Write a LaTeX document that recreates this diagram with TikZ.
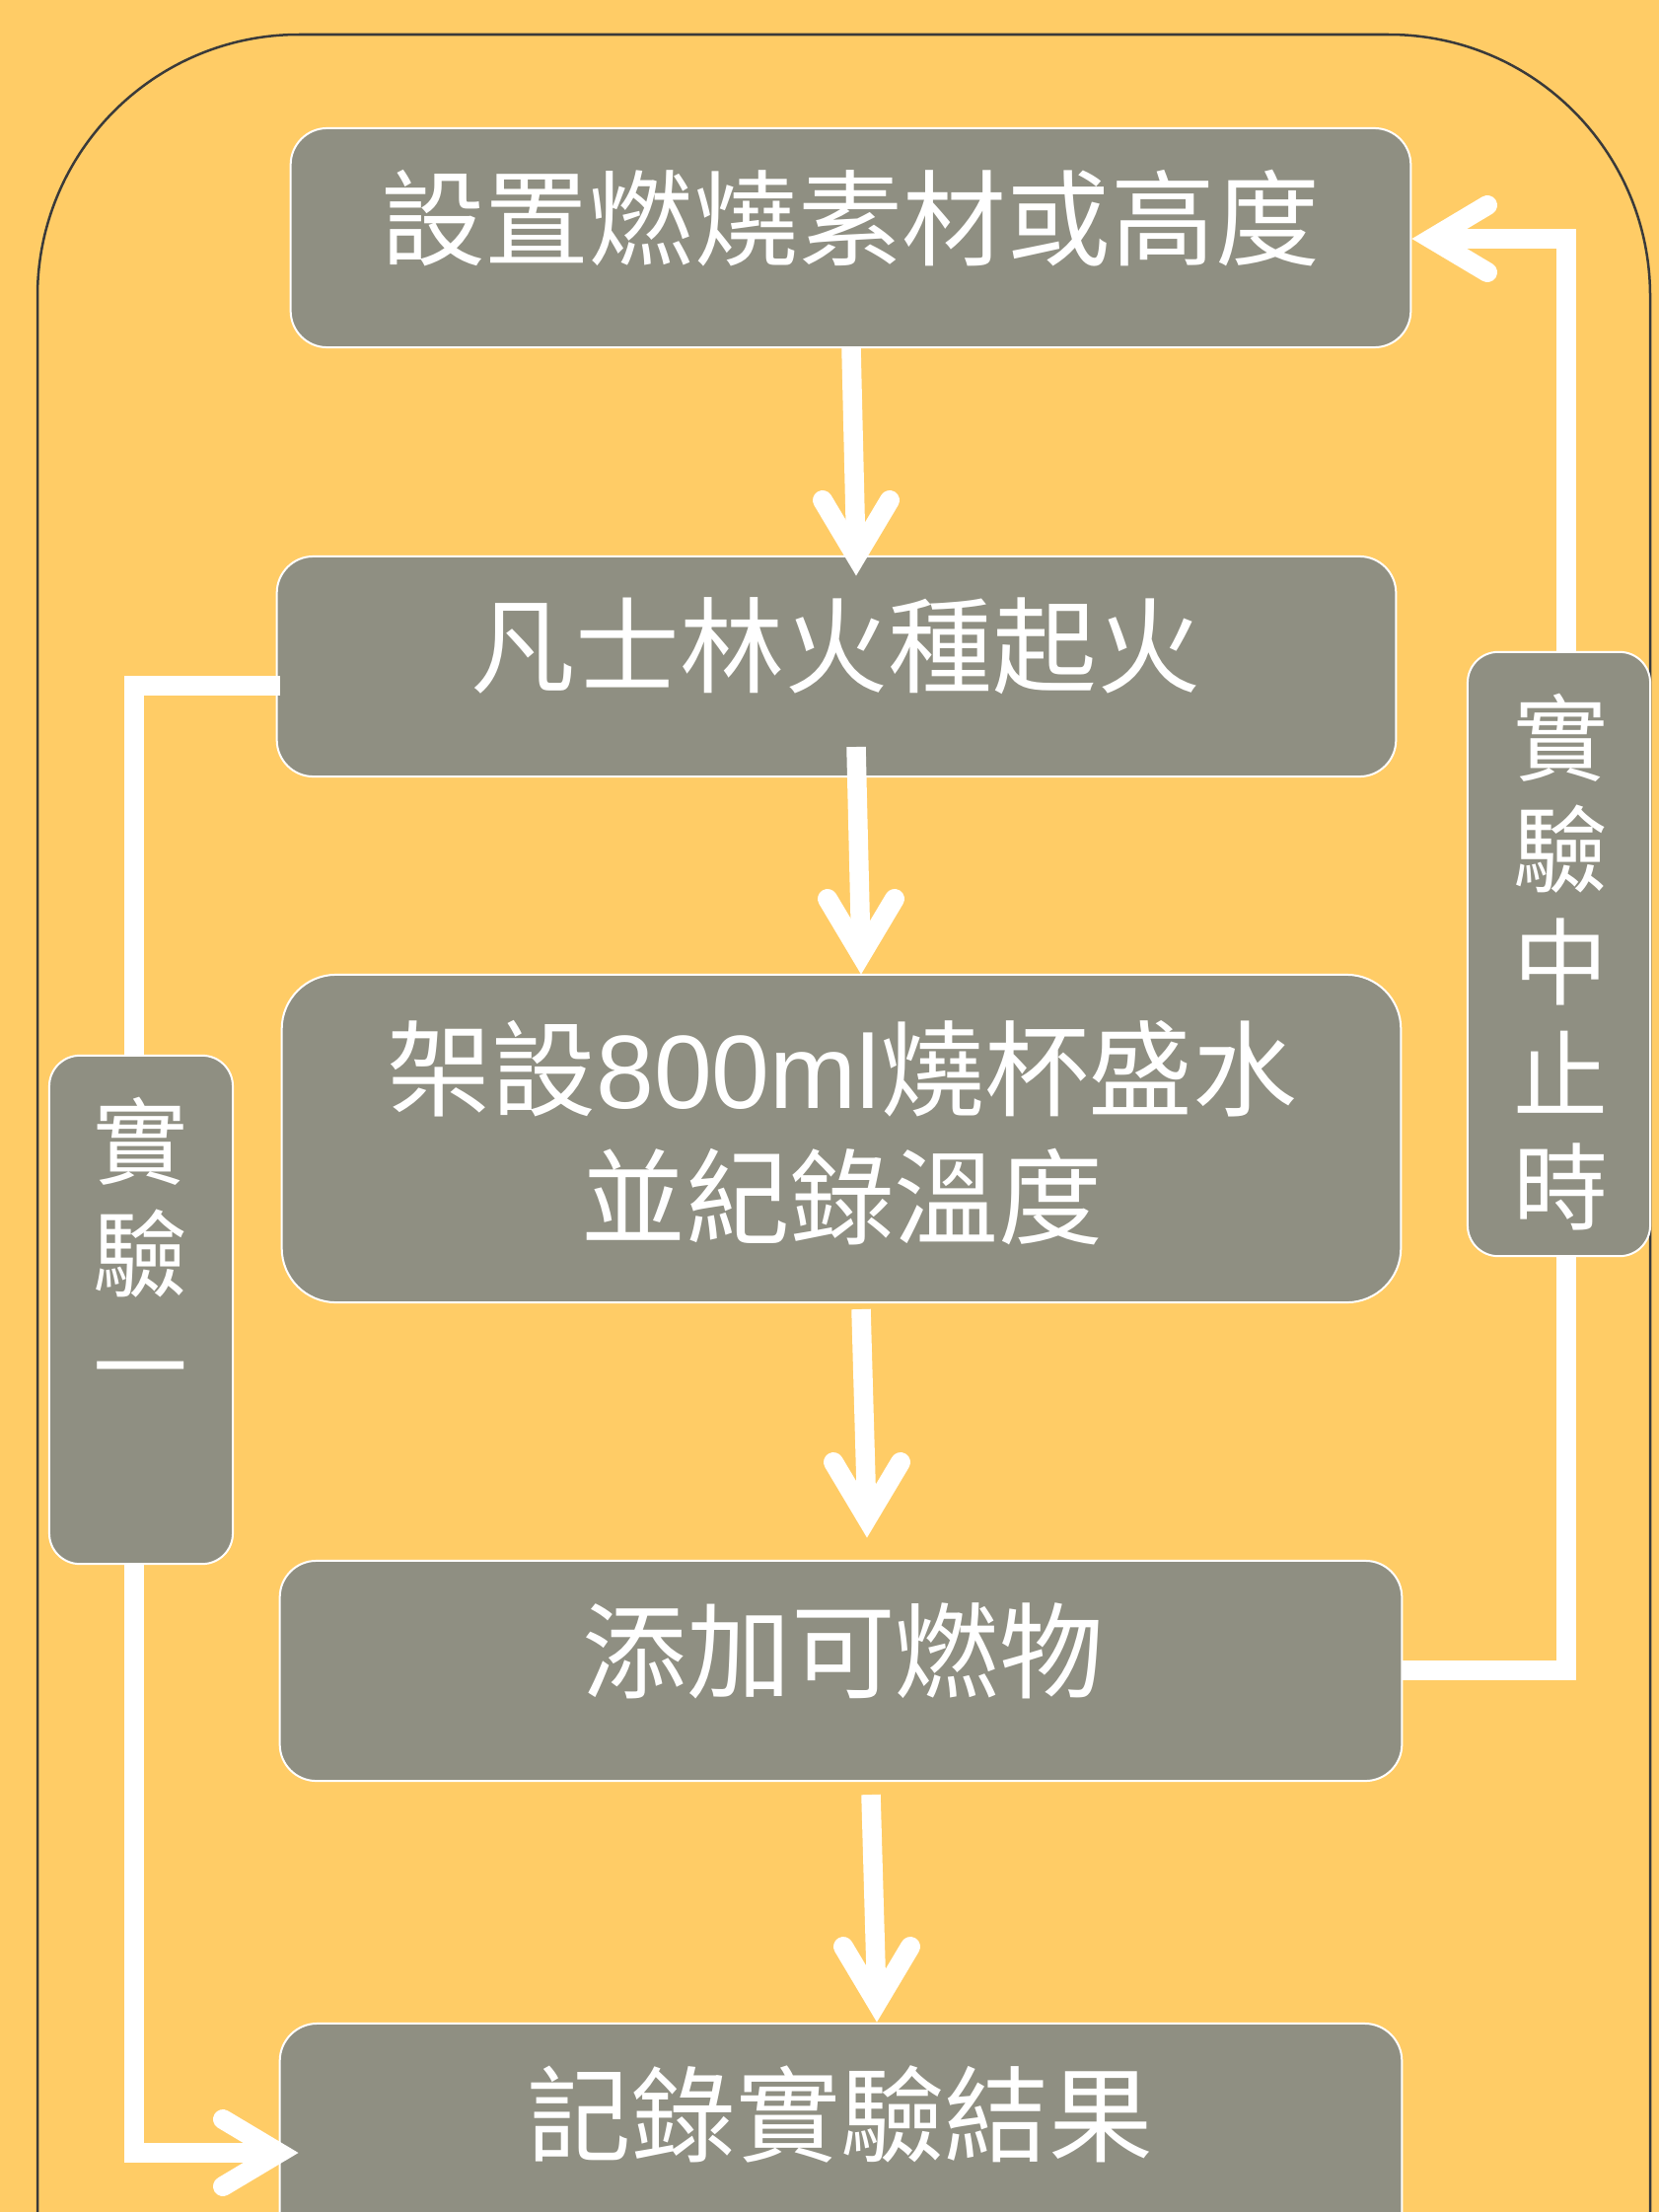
\documentclass[tikz,border=0pt]{standalone}
\usepackage{fontspec}
\newfontfamily\cjk{Noto Sans CJK TC}
\newfontfamily\lat{Liberation Sans}
\usetikzlibrary{calc}
\definecolor{bgc}{HTML}{FFCC66}
\definecolor{boxc}{HTML}{8F8F82}
\definecolor{outl}{HTML}{3A3A3A}
\tikzset{
  mainbox/.style={draw=white, fill=boxc, line width=0.02cm, inner sep=0pt, outer sep=0pt, rounded corners=0.37cm},
  sidebox/.style={draw=white, fill=boxc, line width=0.02cm, inner sep=0pt, outer sep=0pt, rounded corners=0.31cm},
  flowline/.style={draw=white, line width=0.195cm, line cap=butt, line join=miter},
  chevron/.style={draw=white, line width=0.2cm, line cap=round, line join=miter},
  lbl/.style={text=white, inner sep=0pt, align=center, font=\cjk\fontsize{30.07pt}{36.99pt}\selectfont},
  sidelbl/.style={text=white, inner sep=0pt, align=center, font=\cjk\fontsize{27.3pt}{32.4pt}\selectfont},
}
\newcommand{\chevD}[1]{\draw[chevron] ($(#1)+(-34,-76)$) -- ($(#1)+(0,-19)$) -- ($(#1)+(34,-76)$);}
\newcommand{\chevL}[1]{\draw[chevron] ($(#1)+(76,-34)$) -- ($(#1)+(19,0)$) -- ($(#1)+(76,34)$);}
\newcommand{\chevR}[1]{\draw[chevron] ($(#1)+(-76,-34)$) -- ($(#1)+(-19,0)$) -- ($(#1)+(-76,34)$);}
\begin{document}
\begin{tikzpicture}[x=0.01cm, y=-0.01cm]
\useasboundingbox (0,0) rectangle (1682,2242);
\clip (0,0) rectangle (1682,2242);
\fill[bgc] (0,0) rectangle (1682,2242);
% outer frame
\draw[outl, line width=0.025cm, rounded corners=2.65cm] (38,2400) -- (38,35) -- (1673,35) -- (1673,2400);

% main boxes
\node[mainbox, minimum width=11.35cm, minimum height=2.22cm] (b1) at (862.5,241) {};
\node[mainbox, minimum width=11.34cm, minimum height=2.23cm] (b2) at (848,675.5) {};
\node[mainbox, minimum width=11.34cm, minimum height=3.32cm, rounded corners=0.55cm] (b3) at (853,1154) {};
\node[mainbox, minimum width=11.37cm, minimum height=2.23cm] (b4) at (852.5,1693.5) {};
\node[mainbox, minimum width=11.37cm, minimum height=2.39cm, rounded corners=0.38cm] (b5) at (852.5,2170.5) {};

% texts
\node[lbl] (t1) at (862,221) {設置燃燒素材或高度};
\node[lbl] (t2) at (848,655) {凡士林火種起火};
\node[lbl] (t3) at (854,1148) {架設{\lat 800ml}燒杯盛水\\並紀錄溫度};
\node[lbl] (t4) at (855,1673) {添加可燃物};
\node[lbl] (t5) at (852,2143) {記錄實驗結果};

% main arrows
\coordinate (a1s) at (863,353);  \coordinate (a1t) at (868,583);
\coordinate (a2s) at (868,757);  \coordinate (a2t) at (873,987);
\coordinate (a3s) at (873,1327); \coordinate (a3t) at (879,1558);
\coordinate (a4s) at (883,1819); \coordinate (a4t) at (889,2049);
\draw[flowline] (a1s) -- ($(a1t)+(0,-19)$);
\draw[flowline] (a2s) -- ($(a2t)+(0,-19)$);
\draw[flowline] (a3s) -- ($(a3t)+(0,-19)$);
\draw[flowline] (a4s) -- ($(a4t)+(0,-19)$);
\chevD{a1t}
\chevD{a2t}
\chevD{a3t}
\chevD{a4t}

% left loop (實驗一)
\coordinate (ls) at (284,695);
\coordinate (lc1) at (136,695);
\coordinate (lc2) at (136,2182);
\coordinate (lt) at (302,2182);
\draw[flowline] (ls) -- (lc1) -- (lc2) -- ($(lt)+(-19,0)$);
\chevR{lt}

% right loop (實驗中止時)
\coordinate (rs) at (1421,1693);
\coordinate (rc1) at (1588,1693);
\coordinate (rc2) at (1588,242);
\coordinate (rt) at (1432,242);
\draw[flowline] (rs) -- (rc1) -- (rc2) -- ($(rt)+(19,0)$);
\chevL{rt}

% side boxes
\node[sidebox, minimum width=1.86cm, minimum height=5.15cm] (s1) at (143,1327.5) {};
\node[sidebox, minimum width=1.85cm, minimum height=6.12cm] (s2) at (1580.5,967) {};
\node[sidelbl] (ts1) at (143,1267) {實\\驗\\一};
\node[sidelbl] (ts2) at (1582,975) {實\\驗\\中\\止\\時};
\end{tikzpicture}
\end{document}
